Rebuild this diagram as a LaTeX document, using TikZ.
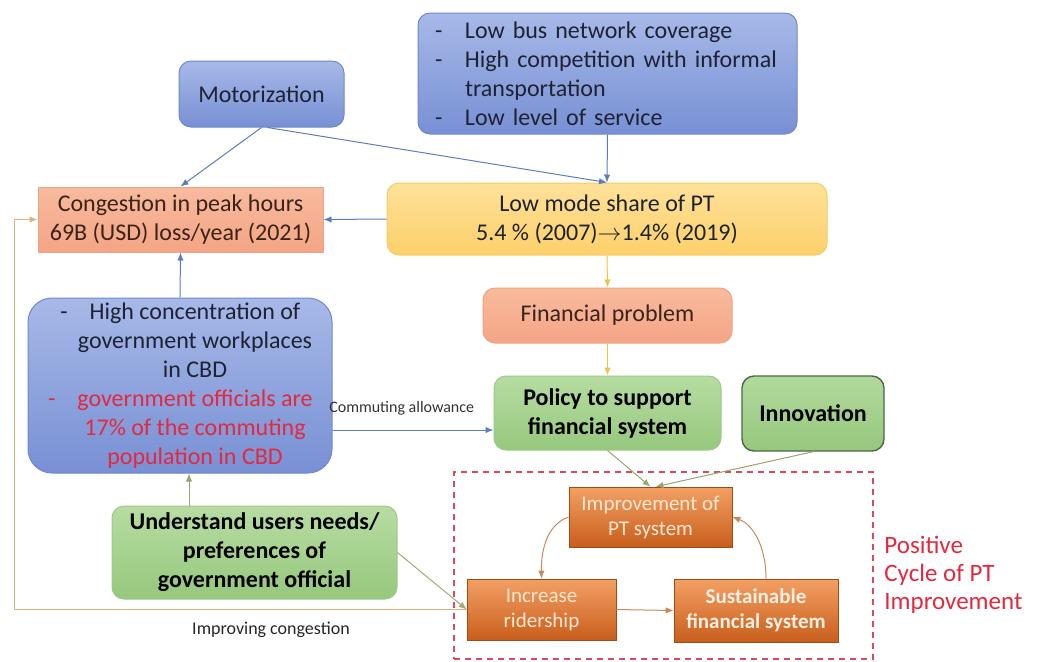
\documentclass[tikz,border=0pt]{standalone}
\usepackage{fontspec}
\setmainfont{Carlito}
\usetikzlibrary{arrows.meta,calc}

\definecolor{blueTop}{HTML}{A7B9E8}
\definecolor{blueBot}{HTML}{7890D4}
\definecolor{blueDraw}{HTML}{7088CA}
\definecolor{yelTop}{HTML}{FEE19A}
\definecolor{yelBot}{HTML}{FDD06A}
\definecolor{yelDraw}{HTML}{F6CB66}
\definecolor{salTop}{HTML}{F8BA9E}
\definecolor{salBot}{HTML}{F4A585}
\definecolor{salDraw}{HTML}{F0A282}
\definecolor{grnTop}{HTML}{B7DCA2}
\definecolor{grnBot}{HTML}{96C87D}
\definecolor{grnDraw}{HTML}{9CCA86}
\definecolor{grnDark}{HTML}{4F6646}
\definecolor{orgTop}{HTML}{F3A064}
\definecolor{orgBot}{HTML}{C85E1C}
\definecolor{orgText}{HTML}{FDE6D2}
\definecolor{txt}{HTML}{1E2233}
\definecolor{brownTxt}{HTML}{3A2418}
\definecolor{redT}{HTML}{E4283E}
\definecolor{frameRed}{HTML}{D94A5E}
\definecolor{arrBlue}{HTML}{5B7DC2}
\definecolor{arrYel}{HTML}{F1C24A}
\definecolor{arrOlive}{HTML}{93A86C}
\definecolor{arrTan}{HTML}{C98A5A}
\definecolor{loopTan}{HTML}{D9B47E}
\definecolor{arrKhaki}{HTML}{A8A678}

\begin{document}
\begin{tikzpicture}[x=0.5pt,y=-0.5pt,
  % size in picture units (1 unit = 0.5pt)
  size/.style 2 args={minimum width=#1*0.5pt, minimum height=#2*0.5pt},
  box/.style={inner sep=0pt, align=center, text=txt,
    font=\fontsize{12}{14.5}\selectfont},
  bluebox/.style={box, rounded corners=6pt, draw=blueDraw, line width=0.5pt,
    top color=blueTop, bottom color=blueBot},
  yelbox/.style={box, rounded corners=6pt, draw=yelDraw, line width=0.5pt,
    top color=yelTop, bottom color=yelBot},
  salbox/.style={box, draw=salDraw, line width=0.5pt,
    top color=salTop, bottom color=salBot, text=brownTxt},
  grnbox/.style={box, rounded corners=6pt, draw=grnDraw, line width=0.5pt,
    top color=grnTop, bottom color=grnBot, text=black,
    font=\fontsize{12}{14.5}\selectfont\bfseries},
  orgbox/.style={box, draw=orgBot!80!black, line width=0.3pt,
    top color=orgTop, bottom color=orgBot, text=orgText,
    font=\fontsize{10.5}{12.5}\selectfont},
  arr/.style={-{Latex[length=4pt,width=3.2pt]}, line width=0.5pt},
  small/.style={inner sep=0pt, text=black!80, font=\fontsize{8}{9}\selectfont}
]
\useasboundingbox (0,0) rectangle (1038,661);

% causes of the low mode share
\node[bluebox, size={165}{66}] (moto) at (261.5,94) {Motorization};
\node[bluebox, size={379}{121}, align=left, text width=172.5pt] (cov) at (607.5,73.5)
  {\makebox[15pt][l]{-}Low bus network coverage\\
   \makebox[15pt][l]{-}High competition with informal\\
   \hspace*{15pt}transportation\\
   \makebox[15pt][l]{-}Low level of service};

% congestion and mode share
\node[salbox, size={285}{65}] (cong) at (180.5,219.5)
  {Congestion in peak hours\\69B (USD) loss/year (2021)};
\node[yelbox, size={440}{72}] (low) at (607,219)
  {Low mode share of PT\\5.4 \% (2007)$\rightarrow$1.4\% (2019)};
\node[salbox, rounded corners=6pt, size={249}{55}] (fin) at (607.5,315.5)
  {Financial problem};

% government workplaces
\node[bluebox, rounded corners=12pt, size={304}{175}] (hc) at (180,385.5) {};
\node[box] (hcText) at (195,386)
  {\llap{-\hspace{11pt}}High concentration of\\
   government workplaces\\
   in CBD\\
   \textcolor{redT}{\llap{-\hspace{11pt}}government officials are}\\
   \textcolor{redT}{17\% of the commuting}\\
   \textcolor{redT}{population in CBD}};

% measures
\node[grnbox, size={227}{74}] (pol) at (607.5,413) {Policy to support\\financial system};
\node[grnbox, draw=grnDark, line width=0.7pt, size={142}{75},
  top color=grnTop!85!grnBot, bottom color=grnBot] (inn) at (813,413.5) {Innovation};
\node[grnbox, size={285}{93}] (und) at (254.5,552.5)
  {Understand users needs/\\preferences of\\government official};

% positive cycle
\node[draw=frameRed, line width=0.7pt, dash pattern=on 3pt off 2.5pt,
  inner sep=0pt, size={419}{187}] (frame) at (663.5,565.5) {};
\node[orgbox, size={163}{60}] (imp) at (650.5,517) {Improvement of\\PT system};
\node[orgbox, size={149}{61}] (inc) at (541.5,609.5) {Increase\\ridership};
\node[orgbox, size={164}{63}, font=\fontsize{10.5}{12.5}\selectfont\bfseries,
  text=orgText!60!white] (sus) at (756,610.5) {Sustainable\\financial system};
\node[anchor=west, inner sep=0pt, align=left, text=redT,
  font=\fontsize{12.5}{14}\selectfont] (cycLbl) at (884,575)
  {Positive\\Cycle of PT\\Improvement};

% helper coordinates
\coordinate (x189) at (189,0);
\coordinate (y430) at (0,430);
\coordinate (loopX) at (14,0);

% connectors
\draw[arr, arrBlue] (moto.south) -- (cong.north);
\draw[arr, arrBlue] ($(moto.south)+(6,0)$) -- (low.north);
\draw[arr, arrBlue] (cov.south) -- (low.north);
\draw[arr, arrBlue] (low.west) -- (cong.east);
\draw[arr, arrBlue] (hc.north) -- (cong.south);
\draw[arr, arrOlive] (und.north -| x189) -- (hc.south -| x189);
\draw[arr, arrBlue] (hc.east |- y430) -- (pol.west |- y430)
  node[small, pos=0.43, above=7pt] (comLbl) {Commuting allowance};
\draw[arr, arrYel] (low.south) -- (fin.north);
\draw[arr, arrYel] (fin.south) -- (pol.north);
\draw[arr, arrOlive] (pol.south) -- (imp.north);
\draw[arr, arrOlive] (inn.south) -- ($(imp.north)+(5,0)$);
\draw[arr, arrTan] (imp.west) .. controls (548,524) and (541,548) .. (inc.north);
\draw[arr, arrTan] (inc.east) -- (sus.west);
\draw[arr, arrTan] ($(sus.north)+(10,0)$) .. controls (766,545) and (752,524) .. (imp.east);
\draw[arr, arrKhaki] (und.east) -- (inc.west);
\draw[arr, loopTan] (inc.west) -- (inc.west -| loopX) -- (loopX |- cong.west) -- (cong.west);
\node[small, font=\fontsize{9}{10}\selectfont, text=black!85] (impLbl) at (271,630)
  {Improving congestion};
\end{tikzpicture}
\end{document}
